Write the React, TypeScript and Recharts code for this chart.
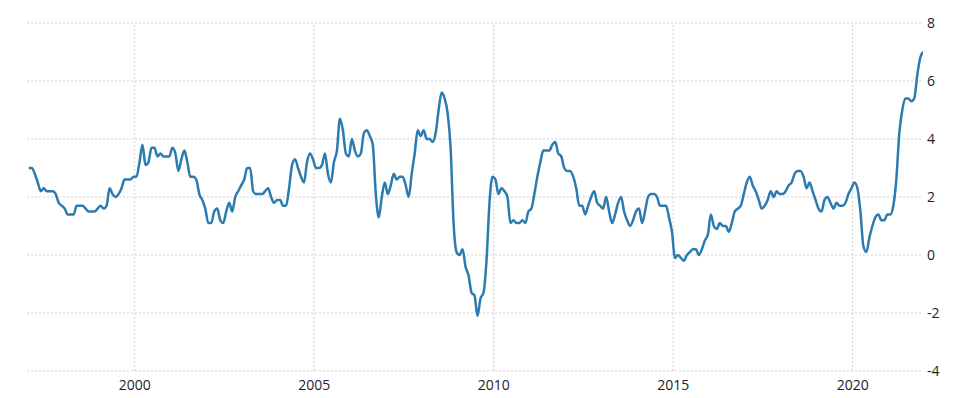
import React from "react";
import { LineChart, Line, XAxis, YAxis, CartesianGrid, ReferenceLine } from "recharts";

const startYear = 1997;
const cpi1997 = [3.0, 3.0, 2.8, 2.5, 2.2, 2.3, 2.2, 2.2, 2.2, 2.1, 1.8, 1.7];
const cpi1998 = [1.6, 1.4, 1.4, 1.4, 1.7, 1.7, 1.7, 1.6, 1.5, 1.5, 1.5, 1.6];
const cpi1999 = [1.7, 1.6, 1.7, 2.3, 2.1, 2.0, 2.1, 2.3, 2.6, 2.6, 2.6, 2.7];
const cpi2000 = [2.7, 3.2, 3.8, 3.1, 3.2, 3.7, 3.7, 3.4, 3.5, 3.4, 3.4, 3.4];
const cpi2001 = [3.7, 3.5, 2.9, 3.3, 3.6, 3.2, 2.7, 2.7, 2.6, 2.1, 1.9, 1.6];
const cpi2002 = [1.1, 1.1, 1.5, 1.6, 1.2, 1.1, 1.5, 1.8, 1.5, 2.0, 2.2, 2.4];
const cpi2003 = [2.6, 3.0, 3.0, 2.2, 2.1, 2.1, 2.1, 2.2, 2.3, 2.0, 1.8, 1.9];
const cpi2004 = [1.9, 1.7, 1.7, 2.3, 3.1, 3.3, 3.0, 2.7, 2.5, 3.2, 3.5, 3.3];
const cpi2005 = [3.0, 3.0, 3.1, 3.5, 2.8, 2.5, 3.2, 3.6, 4.7, 4.3, 3.5, 3.4];
const cpi2006 = [4.0, 3.6, 3.4, 3.5, 4.2, 4.3, 4.1, 3.8, 2.1, 1.3, 2.0, 2.5];
const cpi2007 = [2.1, 2.4, 2.8, 2.6, 2.7, 2.7, 2.4, 2.0, 2.8, 3.5, 4.3, 4.1];
const cpi2008 = [4.3, 4.0, 4.0, 3.9, 4.2, 5.0, 5.6, 5.4, 4.9, 3.7, 1.1, 0.1];
const cpi2009 = [0.0, 0.2, -0.4, -0.7, -1.3, -1.4, -2.1, -1.5, -1.3, -0.2, 1.8, 2.7];
const cpi2010 = [2.6, 2.1, 2.3, 2.2, 2.0, 1.1, 1.2, 1.1, 1.1, 1.2, 1.1, 1.5];
const cpi2011 = [1.6, 2.1, 2.7, 3.2, 3.6, 3.6, 3.6, 3.8, 3.9, 3.5, 3.4, 3.0];
const cpi2012 = [2.9, 2.9, 2.7, 2.3, 1.7, 1.7, 1.4, 1.7, 2.0, 2.2, 1.8, 1.7];
const cpi2013 = [1.6, 2.0, 1.5, 1.1, 1.4, 1.8, 2.0, 1.5, 1.2, 1.0, 1.2, 1.5];
const cpi2014 = [1.6, 1.1, 1.5, 2.0, 2.1, 2.1, 2.0, 1.7, 1.7, 1.7, 1.3, 0.8];
const cpi2015 = [-0.1, 0.0, -0.1, -0.2, 0.0, 0.1, 0.2, 0.2, 0.0, 0.2, 0.5, 0.7];
const cpi2016 = [1.4, 1.0, 0.9, 1.1, 1.0, 1.0, 0.8, 1.1, 1.5, 1.6, 1.7, 2.1];
const cpi2017 = [2.5, 2.7, 2.4, 2.2, 1.9, 1.6, 1.7, 1.9, 2.2, 2.0, 2.2, 2.1];
const cpi2018 = [2.1, 2.2, 2.4, 2.5, 2.8, 2.9, 2.9, 2.7, 2.3, 2.5, 2.2, 1.9];
const cpi2019 = [1.6, 1.5, 1.9, 2.0, 1.8, 1.6, 1.8, 1.7, 1.7, 1.8, 2.1, 2.3];
const cpi2020 = [2.5, 2.3, 1.5, 0.3, 0.1, 0.6, 1.0, 1.3, 1.4, 1.2, 1.2, 1.4];
const cpi2021 = [1.4, 1.7, 2.6, 4.2, 5.0, 5.4, 5.4, 5.3, 5.4, 6.2, 6.8, 7.0];

const yearlySeries = [
  cpi1997, cpi1998, cpi1999, cpi2000, cpi2001, cpi2002, cpi2003, cpi2004, cpi2005,
  cpi2006, cpi2007, cpi2008, cpi2009, cpi2010, cpi2011, cpi2012, cpi2013, cpi2014,
  cpi2015, cpi2016, cpi2017, cpi2018, cpi2019, cpi2020, cpi2021,
];

const xTicks = [2000, 2005, 2010, 2015, 2020];
const yTicks = [-4, -2, 0, 2, 4, 6, 8];

const data = yearlySeries.flatMap((vals, yi) =>
  vals.map((v, m) => ({ t: startYear + yi + m / 12 + 0.05, value: v }))
);

export default function App() {
  const font = { fontFamily: "'Open Sans', sans-serif", fontSize: 14, fill: "#1c1c2c" };
  return (
    <div style={{ position: "absolute", left: 0, top: 0, background: "#fff" }}>
      <LineChart
        width={957}
        height={398}
        data={data}
        margin={{ top: 23, right: 0, bottom: 0, left: 27 }}
      >
        <CartesianGrid stroke="#cfcfcf" strokeDasharray="2 2" vertical={false} />
        {xTicks.map((t) => (
          <ReferenceLine key={t} x={t} stroke="#cfcfcf" strokeDasharray="2 2" />
        ))}
        <XAxis
          dataKey="t"
          type="number"
          domain={[1997.0, 2021.96]}
          ticks={xTicks}
          axisLine={false}
          tickLine={false}
          tickSize={0}
          tickMargin={9}
          height={27}
          tick={font}
          allowDataOverflow
        />
        <YAxis
          orientation="right"
          domain={[-4, 8]}
          ticks={yTicks}
          axisLine={false}
          tickLine={false}
          tickSize={0}
          tickMargin={4}
          width={34}
          tick={{ ...font, textAnchor: "start" }}
        />
        <Line
          type="monotone"
          dataKey="value"
          stroke="#2b7bb0"
          strokeWidth={2.5}
          dot={false}
          isAnimationActive={false}
        />
      </LineChart>
    </div>
  );
}
